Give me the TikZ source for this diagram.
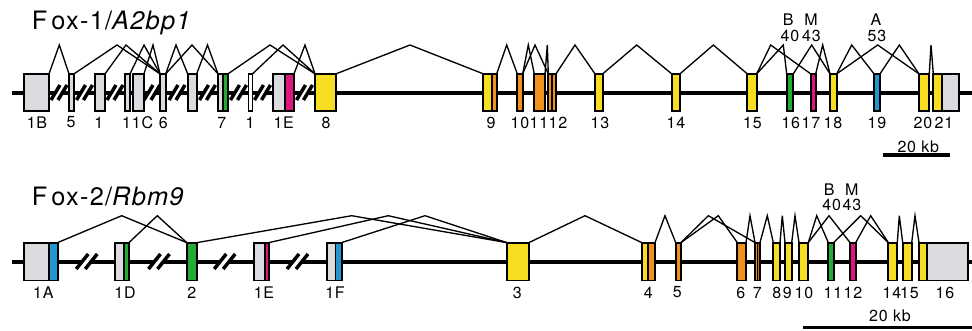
\documentclass[tikz,border=0pt]{standalone}
\usepackage{fontspec}
\setmainfont{TeX Gyre Heros}[LetterSpace=5]
\definecolor{exgray}{RGB}{218,218,223}
\definecolor{exyellow}{RGB}{246,221,34}
\definecolor{exorange}{RGB}{240,147,30}
\definecolor{exdark}{RGB}{190,112,18}
\definecolor{exgreen}{RGB}{34,172,52}
\definecolor{exmagenta}{RGB}{224,22,127}
\definecolor{exblue}{RGB}{33,150,207}

% exon box: name, left x, right x, centre y, fill, row style
\newcommand\exn[6]{\node[exon,#6,fill=#5,minimum width={(#3-#2)*0.75pt}] (#1) at ({(#2+#3)/2},#4) {};}
% splice line: donor exon, acceptor exon, peak x, peak y
\newcommand\spl[4]{\draw[splice] (#1.north east) -- (#3,#4) -- (#2.north west);}
% axis break mark: x, y, half stroke width, half separation
\newcommand\brk[4]{%
  \fill[white] ({#1-#4-#3},{#2+7.5}) -- ({#1-#4+#3},{#2-7.5}) -- ({#1+#4+#3},{#2-7.5}) -- ({#1+#4-#3},{#2+7.5}) -- cycle;
  \draw[brkline] ({#1-#4-#3},{#2+7.5}) -- ({#1-#4+#3},{#2-7.5});
  \draw[brkline] ({#1+#4-#3},{#2+7.5}) -- ({#1+#4+#3},{#2-7.5});}

\begin{document}
\begin{tikzpicture}[x=0.75pt,y=-0.75pt,
  exon/.style={draw=black, line width=1.4pt, inner sep=0pt, outer sep=0pt},
  rowA/.style={minimum height=28pt},
  rowB/.style={minimum height=28.4pt},
  splice/.style={line width=1pt, line join=miter},
  axis/.style={line width=3pt},
  brkline/.style={line width=2.6pt},
  lbl/.style={font=\fontsize{12}{14}\selectfont, inner sep=0pt},
  ttl/.style={font=\fontsize{19}{22}\selectfont, inner sep=0pt, anchor=base west},
  scalebar/.style={line width=2.6pt}]
\useasboundingbox (0,0) rectangle (972,330);

% ---------------- Fox-1 / A2bp1 ----------------
\node[ttl] (title1) at (31.7,29.3) {F\kern3pt ox-1/\textit{A2bp1}};
\coordinate (axA0) at (12,92.5);
\coordinate (axA1) at (972,92.5);
\draw[axis] (axA0) -- (axA1);
\foreach \c in {59,84.5,115,152,177,207.5,238.5,262.5,304.5} {\brk{\c}{92.5}{4.5}{3.5}}

\exn{a1B}{24}{49}{92.5}{exgray}{rowA}
\exn{a5}{69}{74}{92.5}{exgray}{rowA}
\exn{a1x}{94.7}{105}{92.5}{exgray}{rowA}
\exn{a1y}{125}{130}{92.5}{exgray}{rowA}
\exn{a1C}{133}{144}{92.5}{exgray}{rowA}
\exn{a6}{160}{165.7}{92.5}{exgray}{rowA}
\exn{aU}{187.7}{196.7}{92.5}{exgray}{rowA}
\exn{a7g}{218}{223}{92.5}{exgray}{rowA}
\exn{a7}{223}{228}{92.5}{exgreen}{rowA}
\exn{a1z}{248.5}{252.5}{92.5}{white}{rowA}
\exn{a1Eg}{272.7}{285}{92.5}{exgray}{rowA}
\exn{a1E}{285}{294}{92.5}{exmagenta}{rowA}
\exn{a8}{315}{336}{92.5}{exyellow}{rowA}
\exn{a9y}{483.3}{491.7}{92.5}{exyellow}{rowA}
\exn{a9}{491.7}{496.7}{92.5}{exorange}{rowA}
\exn{a10}{517.3}{522.7}{92.5}{exorange}{rowA}
\exn{a11}{534.3}{545}{92.5}{exorange}{rowA}
\exn{a12a}{548.3}{551.7}{92.5}{exorange}{rowA}
\exn{a12}{551.7}{556}{92.5}{exorange}{rowA}
\exn{a13}{595}{602.7}{92.5}{exyellow}{rowA}
\exn{a14}{671.7}{680}{92.5}{exyellow}{rowA}
\exn{a15}{747.3}{756.7}{92.5}{exyellow}{rowA}
\exn{a16}{786.7}{793.3}{92.5}{exgreen}{rowA}
\exn{a17}{810.7}{815.7}{92.5}{exmagenta}{rowA}
\exn{a18}{830}{836.7}{92.5}{exyellow}{rowA}
\exn{a19}{874}{880}{92.5}{exblue}{rowA}
\exn{a20}{919}{929.3}{92.5}{exyellow}{rowA}
\exn{a21y}{933.3}{942.3}{92.5}{exyellow}{rowA}
\exn{a21}{942.3}{959.3}{92.5}{exgray}{rowA}

\spl{a1B}{a5}{59.3}{45}
\spl{a5}{a6}{117}{45}
\spl{a1x}{a6}{126}{45}
\spl{a1y}{a6}{144}{45}
\spl{a1C}{a6}{153}{45}
\spl{a6}{aU}{176}{45}
\spl{a6}{a7g}{192}{45}
\spl{aU}{a7g}{207.5}{45}
\spl{a7}{a8}{270}{45}
\spl{a1z}{a8}{283}{45}
\spl{a1E}{a8}{305}{45}
\spl{a8}{a9y}{410}{45}
\spl{a9}{a10}{506.7}{45}
\spl{a10}{a11}{528.3}{45}
\spl{a10}{a12a}{535}{45}
\spl{a11}{a12a}{547.3}{45}
\spl{a12}{a13}{575}{45}
\spl{a13}{a14}{636.7}{45}
\spl{a14}{a15}{713.3}{45}
\spl{a15}{a16}{783.3}{45}
\spl{a15}{a17}{770.7}{45}
\spl{a16}{a18}{811.7}{45}
\spl{a17}{a18}{822.7}{45}
\spl{a18}{a19}{851.7}{45}
\spl{a18}{a20}{877.7}{45}
\spl{a19}{a20}{899.3}{45}
\spl{a20}{a21y}{931}{45}

\node[lbl] (la1B) at (37,122.5) {1B};
\node[lbl] (la5) at (71,122.5) {5};
\node[lbl] (la1x) at (98.7,122.5) {1};
\node[lbl] (la1y) at (126.5,122.5) {1};
\node[lbl] (la1C) at (142.5,122.5) {1C};
\node[lbl] (la6) at (163.3,122.5) {6};
\node[lbl] (la7) at (221.7,122.5) {7};
\node[lbl] (la1z) at (250,122.5) {1};
\node[lbl] (la1E) at (283.7,122.5) {1E};
\node[lbl] (la8) at (326,122.5) {8};
\node[lbl] (la9) at (491,122.5) {9};
\node[lbl] (la10) at (520,122.5) {10};
\node[lbl] (la11) at (539,122.5) {11};
\node[lbl] (la12) at (558,122.5) {12};
\node[lbl] (la13) at (600,122.5) {13};
\node[lbl] (la14) at (676,122.5) {14};
\node[lbl] (la15) at (752.5,122.5) {15};
\node[lbl] (la16) at (790.8,122.5) {16};
\node[lbl] (la17) at (811,122.5) {17};
\node[lbl] (la18) at (833,122.5) {18};
\node[lbl] (la19) at (877,122.5) {19};
\node[lbl] (la20) at (923,122.5) {20};
\node[lbl] (la21) at (944,122.5) {21};

\node[lbl] (laB) at (788.3,20) {B};
\node[lbl] (laM) at (811,20) {M};
\node[lbl] (la40) at (790,36) {40};
\node[lbl] (la43) at (811.5,36) {43};
\node[lbl] (laA) at (876,20) {A};
\node[lbl] (la53) at (877,36) {53};

\coordinate (sbA0) at (883.3,155);
\coordinate (sbA1) at (950,155);
\draw[scalebar] (sbA0) -- (sbA1);
\node[lbl] (sbAt) at (918.3,146.7) {20 kb};

% ---------------- Fox-2 / Rbm9 ----------------
\node[ttl] (title2) at (31.7,205) {F\kern3pt ox-2/\textit{Rbm9}};
\coordinate (axB0) at (12,261.5);
\coordinate (axB1) at (972,261.5);
\draw[axis] (axB0) -- (axB1);
\foreach \c in {86.7,159,224.7,297.5} {\brk{\c}{261.5}{6}{4.5}}

\exn{b1Ag}{24}{49}{261.5}{exgray}{rowB}
\exn{b1A}{49}{57.7}{261.5}{exblue}{rowB}
\exn{b1Dg}{115}{124}{261.5}{exgray}{rowB}
\exn{b1D}{124}{129}{261.5}{exgreen}{rowB}
\exn{b2}{186.7}{197.3}{261.5}{exgreen}{rowB}
\exn{b1Eg}{254}{265}{261.5}{exgray}{rowB}
\exn{b1E}{265}{269}{261.5}{exmagenta}{rowB}
\exn{b1Fg}{327}{335.5}{261.5}{exgray}{rowB}
\exn{b1F}{335.5}{341.7}{261.5}{exblue}{rowB}
\exn{b3}{506.7}{529}{261.5}{exyellow}{rowB}
\exn{b4y}{641.7}{648.3}{261.5}{exyellow}{rowB}
\exn{b4}{648.3}{655}{261.5}{exorange}{rowB}
\exn{b5}{675.7}{681}{261.5}{exorange}{rowB}
\exn{b6}{737.3}{746}{261.5}{exorange}{rowB}
\exn{b7a}{755}{757.5}{261.5}{exorange}{rowB}
\exn{b7}{757.5}{760}{261.5}{exdark}{rowB}
\exn{b8}{773.3}{780}{261.5}{exyellow}{rowB}
\exn{b9}{785}{791.7}{261.5}{exyellow}{rowB}
\exn{b10}{799}{808.3}{261.5}{exyellow}{rowB}
\exn{b11}{828.3}{833.7}{261.5}{exgreen}{rowB}
\exn{b12}{850}{855.7}{261.5}{exmagenta}{rowB}
\exn{b14}{888.3}{897.3}{261.5}{exyellow}{rowB}
\exn{b15}{902.7}{911.7}{261.5}{exyellow}{rowB}
\exn{b16y}{919}{926.7}{261.5}{exyellow}{rowB}
\exn{b16}{926.7}{968.3}{261.5}{exgray}{rowB}

\spl{b1A}{b2}{121.7}{215.7}
\spl{b1D}{b2}{157.3}{215.7}
\spl{b2}{b3}{351.7}{215.7}
\spl{b1E}{b3}{388.3}{215.7}
\spl{b1F}{b3}{425}{215.7}
\spl{b3}{b4y}{585}{215.7}
\spl{b4}{b5}{665}{215.7}
\spl{b5}{b7a}{708.3}{215.7}
\spl{b5}{b6}{718.3}{215.7}
\spl{b6}{b7a}{750}{215.7}
\spl{b7}{b8}{767.3}{215.7}
\spl{b8}{b9}{782.3}{215.7}
\spl{b9}{b10}{795}{215.7}
\spl{b10}{b11}{816.7}{215.7}
\spl{b10}{b12}{829}{215.7}
\spl{b11}{b14}{860.7}{215.7}
\spl{b12}{b14}{870.7}{215.7}
\spl{b14}{b15}{899.3}{215.7}
\spl{b15}{b16y}{915}{215.7}

\node[lbl] (lb1A) at (43.3,292.5) {1A};
\node[lbl] (lb1D) at (125,292.5) {1D};
\node[lbl] (lb2) at (191.7,292.5) {2};
\node[lbl] (lb1E) at (264,292.5) {1E};
\node[lbl] (lb1F) at (335,292.5) {1F};
\node[lbl] (lb3) at (517.3,292.5) {3};
\node[lbl] (lb4) at (648.3,292.5) {4};
\node[lbl] (lb5) at (677.3,292.5) {5};
\node[lbl] (lb6) at (740.7,292.5) {6};
\node[lbl] (lb7) at (757.3,292.5) {7};
\node[lbl] (lb8) at (776.7,292.5) {8};
\node[lbl] (lb9) at (787.3,292.5) {9};
\node[lbl] (lb10) at (804,292.5) {10};
\node[lbl] (lb11) at (833,292.5) {11};
\node[lbl] (lb12) at (853,292.5) {12};
\node[lbl] (lb14) at (892,292.5) {14};
\node[lbl] (lb15) at (909.5,292.5) {15};
\node[lbl] (lb16) at (945,292.5) {16};

\node[lbl] (lbB) at (829.3,190) {B};
\node[lbl] (lbM) at (851.7,190) {M};
\node[lbl] (lb40) at (831.7,205) {40};
\node[lbl] (lb43) at (852,205) {43};

\coordinate (sbB0) at (803.3,327.7);
\coordinate (sbB1) at (972,327.7);
\draw[scalebar] (sbB0) -- (sbB1);
\node[lbl] (sbBt) at (890,315.7) {20 kb};
\end{tikzpicture}
\end{document}
